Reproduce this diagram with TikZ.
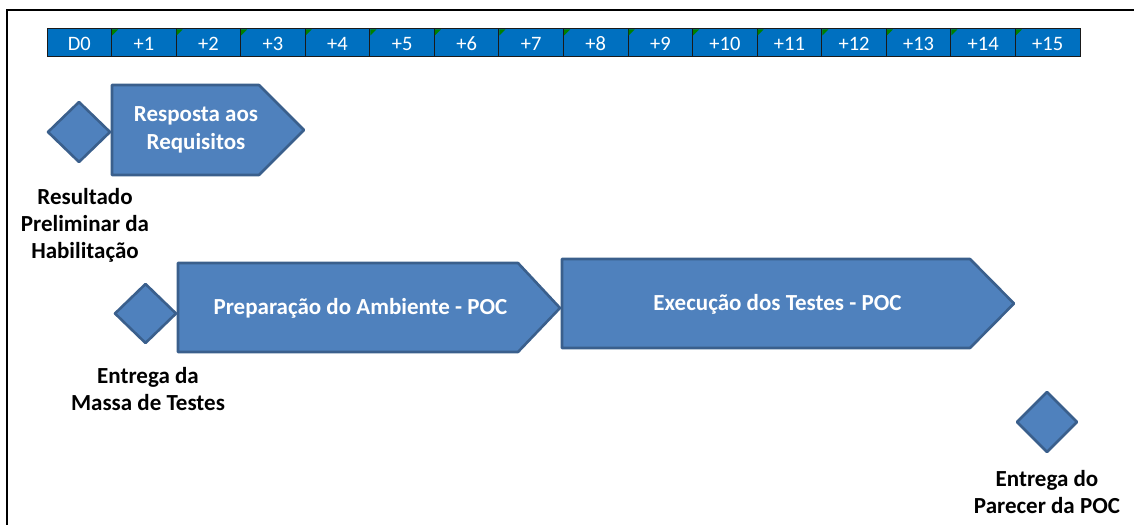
\documentclass[tikz,border=0pt]{standalone}
\usepackage{fontspec}
\setmainfont{Carlito}
\definecolor{cellblue}{HTML}{0070C0}
\definecolor{shapefill}{HTML}{4F81BD}
\definecolor{shapeline}{HTML}{3A5F8C}
\definecolor{cellline}{HTML}{1A1A1A}
\definecolor{mark}{HTML}{008000}
\tikzset{
  shapebox/.style={fill=shapefill, draw=shapeline, line width=2.6bp, line join=round},
  cellbox/.style={fill=cellblue, draw=cellline, line width=1bp},
  celltext/.style={text=white, font=\fontsize{20.5bp}{24bp}\selectfont, inner sep=0pt},
  shapetext/.style={text=white, font=\fontsize{23bp}{28bp}\selectfont\bfseries, align=center, inner sep=0pt},
  labeltext/.style={text=black, font=\fontsize{23bp}{27bp}\selectfont\bfseries, align=center, inner sep=0pt},
  greenmark/.style={fill=mark, draw=none}
}
\begin{document}
\begin{tikzpicture}[x=1bp,y=-1bp]
\useasboundingbox (0,0) rectangle (1134,525);
% frame
\draw[line width=2bp, black] (7,530) -- (7,10) -- (1140,10);
% timeline cells
\foreach \i/\t in {0/D0,1/+1,2/+2,3/+3,4/+4,5/+5,6/+6,7/+7,8/+8,9/+9,10/+10,11/+11,12/+12,13/+13,14/+14,15/+15} {
  \pgfmathsetmacro{\xa}{47+\i*64.5625}
  \pgfmathsetmacro{\xb}{47+(\i+1)*64.5625}
  \pgfmathsetmacro{\xc}{47+(\i+0.5)*64.5625}
  \draw[cellbox] (\xa,29) rectangle (\xb,57);
  \ifnum\i>0
    \fill[greenmark] (\xa+0.5,29.5) -- (\xa+6.5,29.5) -- (\xa+0.5,35.5) -- cycle;
  \fi
  \node[celltext] (cell\i) at (\xc,43.5) {\t};
}
% milestone 1 and task 1
\draw[shapebox] (79,102) -- (110,132) -- (79,162) -- (48,132) -- cycle;
\node (ms1) at (79,132) {};
\draw[shapebox] (112,85) -- (259,85) -- (304,130) -- (259,175) -- (112,175) -- cycle;
\node[shapetext] (t1) at (196,130) {Resposta aos\\Requisitos};
\node[labeltext] (l1) at (85,225) {Resultado\\Preliminar da\\Habilitação};
% milestone 2 and task 2
\draw[shapebox] (145.5,284) -- (176,313.5) -- (145.5,343) -- (115,313.5) -- cycle;
\node (ms2) at (145.5,313.5) {};
\draw[shapebox] (178,263) -- (518,263) -- (560,308) -- (518,352) -- (178,352) -- cycle;
\node[shapetext] (t2) at (360.5,308) {Preparação do Ambiente - POC};
\node[labeltext] (l2) at (148,389) {Entrega da\\Massa de Testes};
% task 3
\draw[shapebox] (562,259) -- (970,259) -- (1014,303.5) -- (970,348) -- (562,348) -- cycle;
\node[shapetext] (t3) at (777.5,304) {Execução dos Testes - POC};
% milestone 3
\draw[shapebox] (1047,392) -- (1077,422) -- (1047,452) -- (1017,422) -- cycle;
\node (ms3) at (1047,422) {};
\node[labeltext] (l3) at (1047,492) {Entrega do\\Parecer da POC};
\end{tikzpicture}
\end{document}
